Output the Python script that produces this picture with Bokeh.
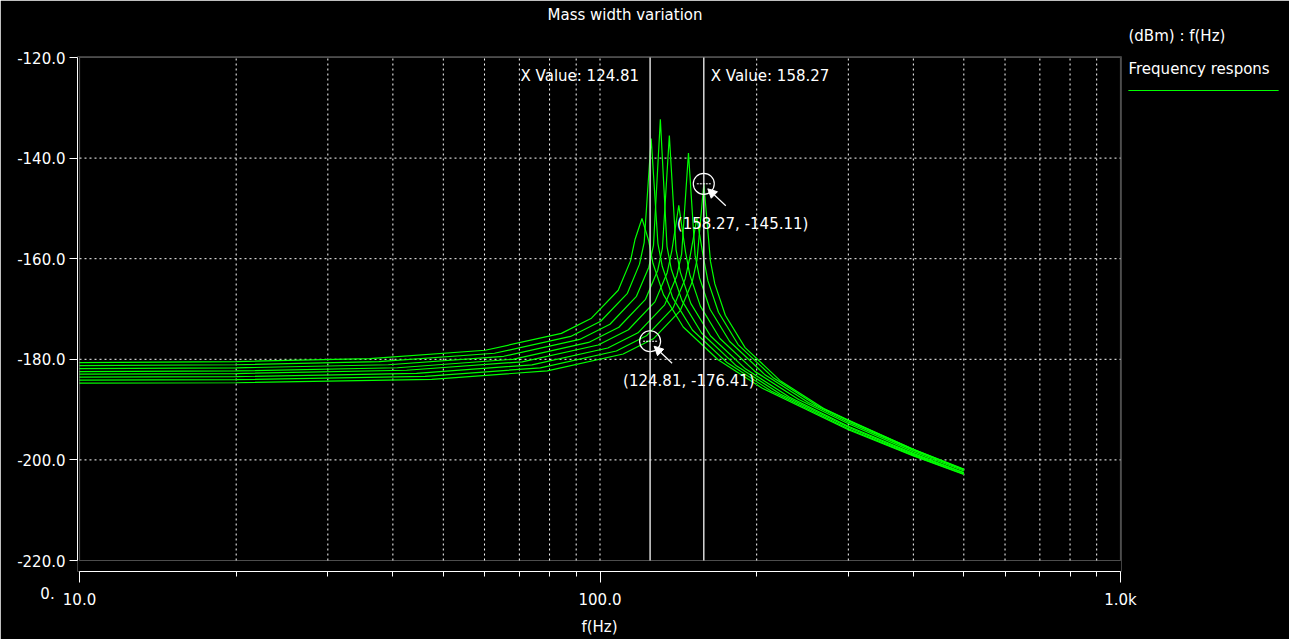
from bokeh.plotting import figure
from bokeh.models import (FixedTicker, PrintfTickFormatter, Label, Arrow, NormalHead,
                          BoxAnnotation, Range1d, ColumnDataSource)
from bokeh.embed import file_html
from bokeh.resources import INLINE

FONT = "DejaVu Sans"
WHITE = "#ffffff"
GREEN = "#00ff00"

# ---------------- texts ----------------
title_text = "Mass width variation"
x_label = "f(Hz)"
legend_units = "(dBm) : f(Hz)"
legend_name = "Frequency respons"

# ---------------- ticks ----------------
x_ticks = [10, 100, 1000]
x_tick_labels = ["10.0", "100.0", "1.0k"]
x_minor = [20, 30, 40, 50, 60, 70, 80, 90, 200, 300, 400, 500, 600, 700, 800, 900]
y_ticks = [-120, -140, -160, -180, -200, -220]
grid_x = [20, 30, 40, 50, 60, 70, 80, 90, 100, 200, 300, 400, 500, 600, 700, 800, 900]
grid_y = [-140, -160, -180, -200]

# ---------------- cursors / markers ----------------
cursor_x = [124.81, 158.27]
marker_x = [124.81, 158.27]
marker_y = [-176.41, -145.11]

# ---------------- curves (f in Hz, level in dBm) ----------------
freq_c1 = [10, 20, 36.1, 60.2, 84.3, 96.3, 108.4, 114.4, 116.8, 120.4, 124.0, 126.4, 132.4, 144.5, 168.6, 204.7, 300, 400, 500]
level_c1 = [-180.65, -180.46, -179.88, -178.20, -174.85, -171.83, -166.28, -160.48, -156.13, -152.0, -156.39, -160.91, -167.14, -173.57, -180.1, -185.7, -194.0, -199.2, -202.9]

freq_c2 = [10, 20, 37.6, 62.7, 87.8, 100.3, 112.9, 119.1, 121.6, 125.4, 129.2, 131.7, 137.9, 150.5, 175.6, 213.2, 300, 400, 500]
level_c2 = [-181.25, -181.08, -180.48, -178.80, -175.45, -172.43, -166.88, -161.08, -156.73, -136.1, -156.99, -161.51, -167.74, -174.17, -180.7, -186.3, -193.8, -199.1, -202.8]

freq_c3 = [10, 20, 39.2, 65.3, 91.4, 104.5, 117.5, 124.1, 126.7, 130.6, 134.5, 137.1, 143.7, 156.7, 182.8, 222.0, 300, 400, 500]
level_c3 = [-181.85, -181.70, -181.08, -179.40, -176.05, -173.03, -167.48, -161.68, -157.33, -132.3, -157.59, -162.11, -168.34, -174.77, -181.3, -186.9, -193.5, -198.9, -202.6]

freq_c4 = [10, 20, 40.8, 68.0, 95.1, 108.7, 122.3, 129.1, 131.8, 135.9, 140.0, 142.7, 149.5, 163.1, 190.3, 231.0, 300, 400, 500]
level_c4 = [-182.45, -182.31, -181.68, -180.00, -176.65, -173.63, -168.08, -162.28, -157.93, -135.5, -158.19, -162.71, -168.94, -175.37, -181.9, -187.5, -193.3, -198.7, -202.5]

freq_c5 = [10, 20, 42.5, 70.9, 99.2, 113.4, 127.5, 134.6, 137.4, 141.7, 146.0, 148.8, 155.9, 170.0, 198.4, 240.9, 300, 400, 500]
level_c5 = [-182.95, -182.83, -182.18, -180.50, -177.15, -174.13, -168.58, -162.78, -158.43, -149.4, -158.69, -163.21, -169.44, -175.87, -182.4, -188.0, -192.8, -198.4, -202.2]

freq_c6 = [10, 20, 44.4, 74.0, 103.5, 118.3, 133.1, 140.5, 143.5, 147.9, 152.3, 155.3, 162.7, 177.5, 207.1, 251.4, 300, 400, 500]
level_c6 = [-183.55, -183.44, -182.78, -181.10, -177.75, -174.73, -169.18, -163.38, -159.03, -139.0, -159.29, -163.81, -170.04, -176.47, -183.0, -188.6, -192.5, -198.1, -202.0]

freq_c7 = [10, 20, 46.1, 76.8, 107.5, 122.8, 138.2, 145.8, 148.9, 153.5, 158.1, 161.2, 168.9, 184.2, 214.9, 261.0, 300, 400, 500]
level_c7 = [-184.15, -184.05, -183.38, -181.70, -178.35, -175.33, -169.78, -163.98, -159.63, -152.0, -159.89, -164.41, -170.64, -177.07, -183.6, -189.2, -192.2, -197.9, -201.8]

freq_c8 = [10, 20, 47.5, 79.2, 110.8, 126.6, 142.5, 150.4, 153.6, 158.3, 163.0, 166.2, 174.1, 190.0, 221.6, 269.1, 300, 400, 500]
level_c8 = [-184.75, -184.66, -183.98, -182.30, -178.95, -175.93, -170.38, -164.58, -160.23, -145.1, -160.49, -165.01, -171.24, -177.67, -184.2, -189.8, -192.1, -197.9, -201.9]

curve_freqs = [freq_c1, freq_c2, freq_c3, freq_c4, freq_c5, freq_c6, freq_c7, freq_c8]
curve_levels = [level_c1, level_c2, level_c3, level_c4, level_c5, level_c6, level_c7, level_c8]

# ---------------- geometry ----------------
PX_DEC = 520.5   # pixels per decade
PX_DB = 5.03     # pixels per dB
FRAME_LEFT, FRAME_RIGHT, FRAME_TOP, FRAME_BOTTOM = 77, 1121, 56, 571
W, H = 1289, 639
x_min, x_max = x_ticks[0], x_ticks[-1]
y_min, y_max = y_ticks[-1], y_ticks[0]


def at(xd, yd, dx, dy):
    """offset a data point by screen pixels (dx right, dy down)"""
    return xd * 10 ** (dx / PX_DEC), yd - dy / PX_DB


x_start = x_min / 10 ** (2 / PX_DEC)
x_end = x_max * 10 ** (1 / PX_DEC)
y_end = y_max + 1 / PX_DB
y_start = y_min - 11 / PX_DB

p = figure(width=W, height=H, x_axis_type="log",
           x_range=Range1d(x_start, x_end), y_range=Range1d(y_start, y_end),
           output_backend="svg", toolbar_location=None, title=None,
           background_fill_color="black", border_fill_color="black",
           min_border_left=FRAME_LEFT, min_border_right=W - FRAME_RIGHT,
           min_border_top=FRAME_TOP, min_border_bottom=H - FRAME_BOTTOM)
p.outline_line_color = None
p.grid.visible = False

# axes
xa = p.xaxis[0]
xa.ticker = FixedTicker(ticks=x_ticks, minor_ticks=x_minor)
xa.major_label_overrides = dict(zip(x_ticks, x_tick_labels))
xa.bounds = (x_min, x_max)
xa.axis_label = x_label
ya = p.yaxis[0]
ya.ticker = FixedTicker(ticks=y_ticks)
ya.formatter = PrintfTickFormatter(format="%.1f")
ya.bounds = (y_min, y_max)
for ax in (xa, ya):
    ax.axis_line_color = WHITE
    ax.major_tick_line_color = WHITE
    ax.minor_tick_line_color = WHITE
    ax.major_label_text_color = WHITE
    ax.major_label_text_font = FONT
    ax.major_label_text_font_size = "15px"
    ax.axis_label_text_color = WHITE
    ax.axis_label_text_font = FONT
    ax.axis_label_text_font_size = "15px"
    ax.axis_label_text_font_style = "normal"
    ax.major_tick_in = 0
    ax.minor_tick_in = 0
xa.major_tick_out = 11
xa.minor_tick_out = 5
xa.major_label_standoff = 8
xa.axis_label_standoff = 6
ya.major_tick_out = 8
ya.minor_tick_line_color = None
ya.major_label_standoff = 4

# dotted grid
p.segment(x0=grid_x, y0=[y_min] * len(grid_x), x1=grid_x, y1=[y_max] * len(grid_x),
          line_color=WHITE, line_dash="2 3", line_width=1)
p.segment(x0=[x_min] * len(grid_y), y0=grid_y, x1=[x_max] * len(grid_y), y1=grid_y,
          line_color=WHITE, line_dash="2 3", line_width=1)

# frame box
p.add_layout(BoxAnnotation(left=x_min, right=x_max, bottom=y_min, top=y_max,
                           fill_alpha=0, line_color=WHITE, line_width=1.2))

# curves
src = ColumnDataSource(dict(xs=curve_freqs, ys=curve_levels))
p.multi_line(xs="xs", ys="ys", source=src, line_color=GREEN, line_width=1.2)

# cursors
p.segment(x0=cursor_x, y0=[y_min] * 2, x1=cursor_x, y1=[y_max] * 2,
          line_color="#d8d8d8", line_width=1.5)

# markers
p.scatter(marker_x, marker_y, size=21, marker="circle", fill_color=None,
          line_color=WHITE, line_width=1.2)
p.scatter(marker_x, marker_y, size=14, marker="dash", line_color=WHITE,
          line_width=1, line_dash="2 1")


def label(x, y, text, align="left", side=None):
    lab = Label(x=x, y=y, text=text, text_color=WHITE, text_font=FONT,
                text_font_size="15px", text_align=align, text_baseline="middle")
    if side is None:
        p.add_layout(lab)
    else:
        p.add_layout(lab, side)


for mx, my in zip(marker_x, marker_y):
    sx, sy = at(mx, my, 22, 22)
    ex, ey = at(mx, my, 4, 5)
    p.add_layout(Arrow(x_start=sx, y_start=sy, x_end=ex, y_end=ey, line_color=WHITE,
                       line_width=1.2,
                       end=NormalHead(size=9, fill_color=WHITE, line_color=WHITE)))
    lx, ly = at(mx, my, -27, 40)
    label(lx, ly, "(%.2f, %.2f)" % (mx, my))

# cursor value labels
lx, ly = at(cursor_x[0], y_max, -11, 18)
label(lx, ly, "X Value: %.2f" % cursor_x[0], align="right")
lx, ly = at(cursor_x[1], y_max, 7, 18)
label(lx, ly, "X Value: %.2f" % cursor_x[1])

# texts outside the frame go into side panels (data units, so not clipped)
tx, ty = at(x_ticks[1], y_max, 25, -43)
label(tx, ty, title_text, align="center", side="above")
lx, ly = at(x_max, y_max, 8, -22)
label(lx, ly, legend_units, side="above")
lx, ly = at(x_max, y_max, 8, 11)
label(lx, ly, legend_name, side="right")
zx, zy = at(x_min, y_min, -32, 32)
label(zx, zy, "0.", align="center", side="right")

# legend line sample: a thin green bar under the series name
bx, by = at(x_max, y_max, 83, 33)
p.add_layout(Label(x=bx, y=by, text=" ", text_font_size="1px", text_color=GREEN,
                   text_align="center", text_baseline="middle",
                   background_fill_color=GREEN,
                   padding=dict(left=75, right=75, top=0, bottom=0)), "above")

open("out.html", "w").write(file_html(p, INLINE))
